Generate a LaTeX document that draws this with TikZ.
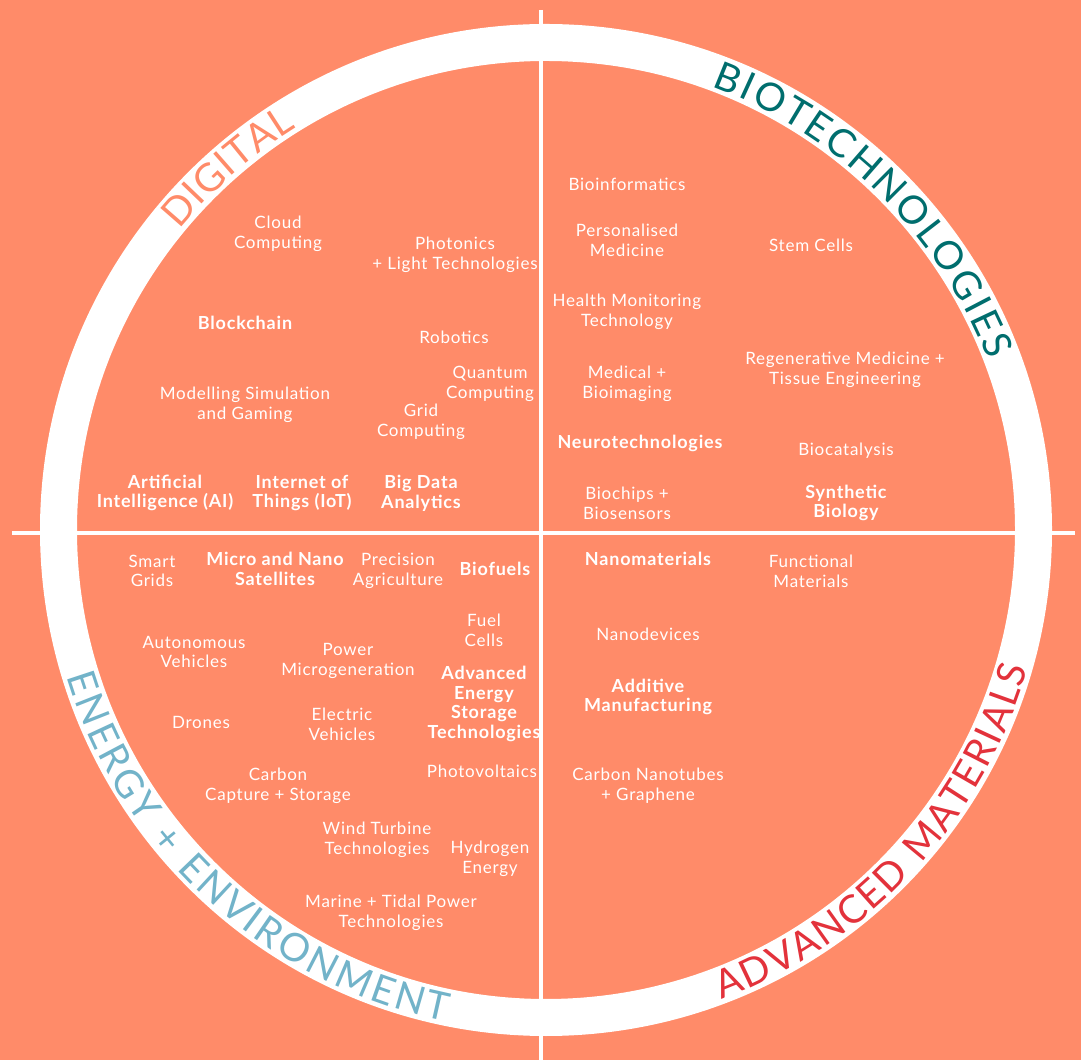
\documentclass[tikz,border=0pt]{standalone}
\usepackage{fontspec}
\setmainfont{Lato}[LetterSpace=4.5]
\usetikzlibrary{decorations.text}
\definecolor{salmon}{HTML}{FF8B69}
\definecolor{biotc}{HTML}{006E6E}
\definecolor{energyc}{HTML}{72B3C9}
\definecolor{materialc}{HTML}{E3323B}
\newcommand\itemfont{\fontsize{17}{19.8}\selectfont}
\newcommand\keyfont{\fontsize{18}{19.8}\selectfont\bfseries}
\newcommand\ringfont{\fontsize{39}{40}\selectfont}
\begin{document}
\begin{tikzpicture}[x=1pt,y=1pt,
  item/.style={text=white,align=center,inner sep=0pt,font=\itemfont},
  keyitem/.style={item,font=\keyfont},
  ringtext/.style={decorate,decoration={text along path,text={|\ringfont|#1},text align=fit to path}}]
	\fill[salmon] (0,0) rectangle (1081,1060);
	\useasboundingbox (0,0) rectangle (1081,1060);
	\coordinate (c) at (546,530);
	\draw[white,line width=37pt] (c) circle[radius=487.5];
	% quadrant lines
	\coordinate (vtop) at (541,1050);
	\coordinate (vbot) at (541,0);
	\coordinate (hleft) at (12,527);
	\coordinate (hright) at (1075,527);
	\draw[white,line width=4pt] (vtop) -- (vbot);
	\draw[white,line width=4pt] (hleft) -- (hright);
	% ring labels
	\path[ringtext=DIGITAL,decoration={text color=salmon}] ([shift={(140.7:473.5)}]c) arc[start angle=140.7,end angle=121.8,radius=473.5];
	\path[ringtext=BIOTECHNOLOGIES,decoration={text color=biotc}] ([shift={(69.5:473.5)}]c) arc[start angle=69.5,end angle=21,radius=473.5];
	\path[ringtext={ENERGY + ENVIRONMENT},decoration={text color=energyc}] ([shift={(197:501.5)}]c) arc[start angle=197,end angle=258.5,radius=501.5];
	\path[ringtext={ADVANCED MATERIALS},decoration={text color=materialc}] ([shift={(290.5:501.5)}]c) arc[start angle=290.5,end angle=344,radius=501.5];
	\begin{scope}[yshift=-2pt]
	% digital
	\node[item] (cloud) at (278,828) {Cloud\\Computing};
	\node[item] (photonics) at (455,807) {Photonics\\+ Light Technologies};
	\node[keyitem] (blockchain) at (245,739) {Blockchain};
	\node[item] (robotics) at (454,725) {Robotics};
	\node[item] (quantum) at (490,678) {Quantum\\Computing};
	\node[item] (modelling) at (245,657) {Modelling Simulation\\and Gaming};
	\node[item] (grid) at (421,640) {Grid\\Computing};
	\node[keyitem] (ai) at (165,569) {Artificial\\Intelligence (AI)};
	\node[keyitem] (iot) at (302,569) {Internet of\\Things (IoT)};
	\node[keyitem] (bigdata) at (421,569) {Big Data\\Analytics};
	% biotechnologies
	\node[item] (bioinf) at (627,878) {Bioinformatics};
	\node[item] (persmed) at (627,822) {Personalised\\Medicine};
	\node[item] (stem) at (811,817) {Stem Cells};
	\node[item] (health) at (627,750) {Health Monitoring\\Technology};
	\node[item] (regen) at (845,692) {Regenerative Medicine +\\Tissue Engineering};
	\node[item] (medical) at (627,678) {Medical +\\Bioimaging};
	\node[keyitem] (neuro) at (640,619) {Neurotechnologies};
	\node[item] (biocat) at (846,611) {Biocatalysis};
	\node[item] (biochips) at (627,559) {Biochips +\\Biosensors};
	\node[keyitem] (synbio) at (846,559) {Synthetic\\Biology};
	% energy + environment
	\node[item] (smart) at (152,491) {Smart\\Grids};
	\node[keyitem] (satellites) at (275,493) {Micro and Nano\\Satellites};
	\node[item] (precision) at (398,491) {Precision\\Agriculture};
	\node[keyitem] (biofuels) at (495,493) {Biofuels};
	\node[item] (fuel) at (484,432) {Fuel\\Cells};
	\node[item] (autonomous) at (194,410) {Autonomous\\Vehicles};
	\node[item] (power) at (348,401) {Power\\Microgeneration};
	\node[keyitem] (storage) at (484,358) {Advanced\\Energy\\Storage\\Technologies};
	\node[item] (drones) at (201,340) {Drones};
	\node[item] (electric) at (342,338) {Electric\\Vehicles};
	\node[item] (pv) at (482,291) {Photovoltaics};
	\node[item] (ccs) at (278,276) {Carbon\\Capture + Storage};
	\node[item] (wind) at (377,222) {Wind Turbine\\Technologies};
	\node[item] (hydrogen) at (490,203) {Hydrogen\\Energy};
	\node[item] (marine) at (391,149) {Marine + Tidal Power\\Technologies};
	% advanced materials
	\node[keyitem] (nanomat) at (648,503) {Nanomaterials};
	\node[item] (functional) at (811,491) {Functional\\Materials};
	\node[item] (nanodev) at (648,428) {Nanodevices};
	\node[keyitem] (additive) at (648,365) {Additive\\Manufacturing};
	\node[item] (cnt) at (648,276) {Carbon Nanotubes\\+ Graphene};
	\end{scope}
\end{tikzpicture}
\end{document}
